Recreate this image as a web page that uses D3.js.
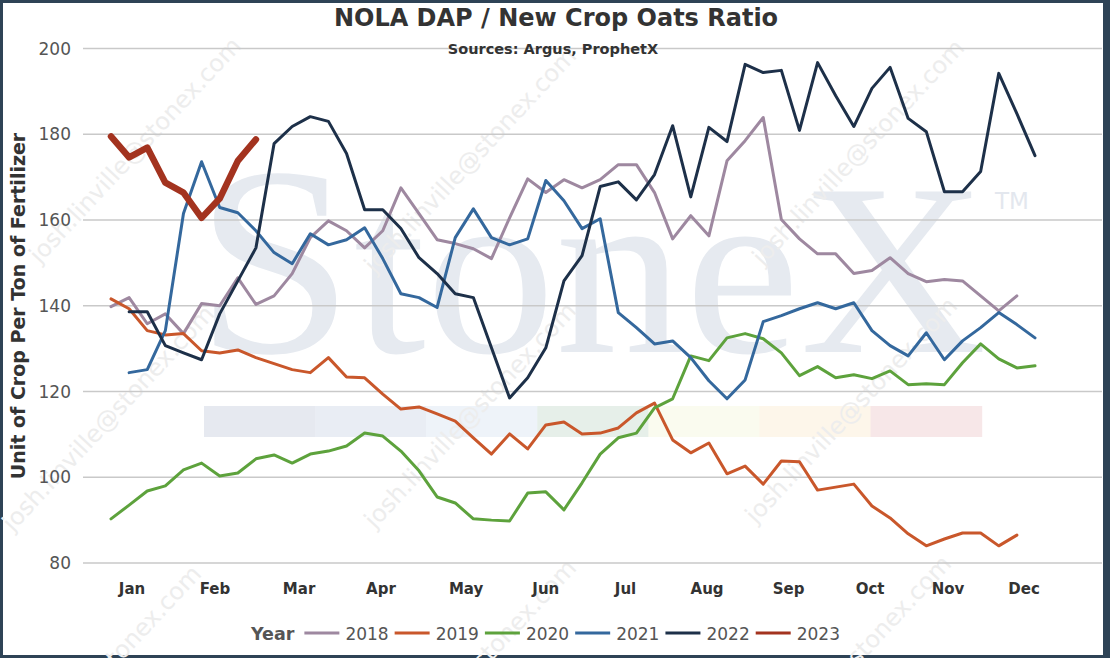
<!DOCTYPE html>
<html>
<head>
<meta charset="utf-8">
<script src="https://cdn.jsdelivr.net/npm/d3@7"></script>
<style>
  html, body { margin: 0; padding: 0; background: #2e4356; }
  svg { display: block; }
</style>
</head>
<body>
<svg id="chart" width="1110" height="658"></svg>
<script>
// ---- data (weekly ratio, week index 0..51) ----
var years  = ['2018', '2019', '2020', '2021', '2022', '2023'];
var colors = ['#9e88a0', '#c9572b', '#5da23c', '#34689d', '#1d3049', '#a3331f'];

var v2018 = [139.8,141.9,135.8,138.1,133.5,140.5,140.0,146.5,140.3,142.3,
             147.5,155.9,159.8,157.5,153.5,157.5,167.5,161.5,155.4,154.5,
             153.3,151.0,160.5,169.6,166.4,169.4,167.5,169.4,172.9,172.9,
             166.4,155.6,161.0,156.3,173.8,178.5,183.9,160.1,155.6,152.1,
             152.1,147.5,148.2,151.2,147.5,145.6,146.1,145.8,142.3,138.8,142.3];
var v2019 = [141.6,139.3,134.2,133.2,133.5,129.5,129.0,129.7,127.9,126.5,
             125.1,124.4,127.9,123.4,123.2,119.4,115.9,116.4,114.8,113.1,
             109.2,105.4,110.1,106.6,112.2,112.9,110.1,110.3,111.5,115.0,
             117.3,108.7,105.7,108.0,100.8,102.6,98.4,103.8,103.6,97.0,
             97.7,98.4,93.3,90.5,86.8,84.0,85.6,87.0,87.0,84.0,86.5];
var v2020 = [90.3,93.5,96.8,98.0,101.7,103.3,100.3,101.0,104.3,105.2,
             103.3,105.4,106.1,107.3,110.3,109.6,106.1,101.5,95.4,94.0,
             90.3,90.0,89.8,96.3,96.6,92.4,98.7,105.4,109.2,110.3,
             116.2,118.3,128.3,127.2,132.5,133.5,132.3,129.0,123.7,125.8,
             123.2,123.9,123.0,124.8,121.6,121.8,121.6,126.7,131.1,127.6,
             125.5,126.0];
var v2021 = [null,
             124.4,125.1,134.2,161.5,173.6,162.9,161.7,157.5,152.4,149.8,
             156.8,154.2,155.4,158.2,151.0,142.8,141.9,139.6,155.9,162.6,
             155.9,154.2,155.6,169.2,164.5,158.0,160.3,138.4,134.9,131.1,
             131.8,127.9,122.5,118.3,122.7,136.3,137.7,139.3,140.7,139.3,
             140.7,134.2,130.7,128.3,133.7,127.4,131.8,134.9,138.4,135.6,132.5];
var v2022 = [null,
             138.6,138.6,130.7,129.0,127.4,138.1,145.8,153.5,177.8,181.8,
             184.1,183.0,175.5,162.4,162.4,158.0,151.2,147.5,142.8,141.9,
             130.2,118.5,123.2,130.2,145.8,151.7,167.8,168.9,164.7,170.6,
             182.0,165.4,181.6,178.3,196.3,194.4,194.9,180.9,196.7,189.0,
             181.8,190.7,195.6,183.7,180.6,166.6,166.6,171.3,194.2,184.8,175.0];
var v2023 = [179.5,174.6,176.9,168.7,166.4,160.5,165.0,173.8,178.8];

var series = [v2018, v2019, v2020, v2021, v2022, v2023];

var months     = ['Jan','Feb','Mar','Apr','May','Jun','Jul','Aug','Sep','Oct','Nov','Dec'];
var monthWeeks = [1.16, 5.74, 10.38, 14.9, 19.6, 24.0, 28.4, 32.9, 37.4, 41.9, 46.2, 50.4];
var yTicks     = [80, 100, 120, 140, 160, 180, 200];

var bandColors = ['#e6e9f0','#e9edf4','#eef3f9','#e6efe9','#fafbef','#fdf6ea','#f7e7e8'];
var email = 'josh.linville@stonex.com';

// ---- setup ----
var W = 1110, H = 658;
var svg = d3.select('#chart');

svg.append('rect').attr('width', W).attr('height', H).attr('fill', '#2e4356');
svg.append('rect')
  .attr('x', 3).attr('y', 3)
  .attr('width', 1100).attr('height', 652)
  .attr('fill', '#ffffff');

var x = d3.scaleLinear().domain([0, 51]).range([111, 1035]);
var y = d3.scaleLinear().domain([80, 200]).range([563, 48.5]);

// ---- watermark ----
var wm = svg.append('g').attr('class', 'watermark');

var logo = wm.append('text')
  .attr('x', 195).attr('y', 352)
  .attr('font-family', '"Liberation Serif", "DejaVu Serif", serif')
  .attr('fill', '#e6eaf0')
  .attr('textLength', 792)
  .attr('lengthAdjust', 'spacingAndGlyphs');
logo.append('tspan').attr('font-size', 270).text('S');
logo.append('tspan').attr('font-size', 245).text('toneX');

wm.append('text')
  .attr('x', 995).attr('y', 209)
  .attr('font-family', '"DejaVu Sans", Verdana, sans-serif')
  .attr('font-size', 23)
  .attr('fill', '#e3e7ee')
  .text('TM');

wm.selectAll('rect.band')
  .data(bandColors)
  .enter().append('rect')
  .attr('class', 'band')
  .attr('x', function (d, i) { return 204 + i * 111.1; })
  .attr('y', 406)
  .attr('width', 111.6)
  .attr('height', 31)
  .attr('fill', function (d) { return d; });

/* repeated e-mail stamp, tiled diagonally */
var stamps = [[135, 150], [470, 160], [858, 152],
              [108, 418], [470, 415], [851, 410],
              [ 95, 678], [470, 672], [845, 668]];
wm.selectAll('text.stamp')
  .data(stamps)
  .enter().append('text')
  .attr('class', 'stamp')
  .attr('transform', function (d) { return 'translate(' + d[0] + ',' + d[1] + ') rotate(-47)'; })
  .attr('text-anchor', 'middle')
  .attr('dy', '0.35em')
  .attr('font-family', '"DejaVu Sans", Verdana, sans-serif')
  .attr('font-size', 24)
  .attr('fill', '#ededed')
  .text(email);

// ---- grid + y labels ----
svg.append('g').selectAll('line')
  .data(yTicks)
  .enter().append('line')
  .attr('x1', 83).attr('x2', 1102)
  .attr('y1', function (d) { return y(d); })
  .attr('y2', function (d) { return y(d); })
  .attr('stroke', '#c9c9c9')
  .attr('stroke-width', 1.5);

svg.append('g').selectAll('text')
  .data(yTicks)
  .enter().append('text')
  .attr('x', 71)
  .attr('y', function (d) { return y(d); })
  .attr('dy', '0.36em')
  .attr('text-anchor', 'end')
  .attr('font-family', '"DejaVu Sans", Verdana, sans-serif')
  .attr('font-size', 17)
  .attr('fill', '#555555')
  .text(function (d) { return d; });

// ---- x labels ----
svg.append('g').selectAll('text')
  .data(months)
  .enter().append('text')
  .attr('x', function (d, i) { return x(monthWeeks[i]); })
  .attr('y', 594)
  .attr('text-anchor', 'middle')
  .attr('font-family', '"DejaVu Sans", Verdana, sans-serif')
  .attr('font-weight', 'bold')
  .attr('font-size', 15)
  .attr('fill', '#333333')
  .text(function (d) { return d; });

// ---- lines ----
var line = d3.line()
  .defined(function (d) { return d != null; })
  .x(function (d, i) { return x(i); })
  .y(function (d) { return y(d); });

svg.append('g').selectAll('path')
  .data(series)
  .enter().append('path')
  .attr('d', line)
  .attr('fill', 'none')
  .attr('stroke', function (d, i) { return colors[i]; })
  .attr('stroke-width', function (d, i) { return i === 5 ? 6.5 : 3; })
  .attr('stroke-linejoin', 'round')
  .attr('stroke-linecap', 'round');

// ---- titles ----
svg.append('text')
  .attr('x', 556).attr('y', 26)
  .attr('text-anchor', 'middle')
  .attr('font-family', '"DejaVu Sans", Verdana, sans-serif')
  .attr('font-weight', 'bold')
  .attr('font-size', 24)
  .attr('fill', '#333333')
  .text('NOLA DAP / New Crop Oats Ratio');

svg.append('text')
  .attr('x', 553).attr('y', 54)
  .attr('text-anchor', 'middle')
  .attr('font-family', '"DejaVu Sans", Verdana, sans-serif')
  .attr('font-weight', 'bold')
  .attr('font-size', 14.5)
  .attr('fill', '#333333')
  .text('Sources: Argus, ProphetX');

svg.append('text')
  .attr('transform', 'translate(25,306) rotate(-90)')
  .attr('text-anchor', 'middle')
  .attr('font-family', '"DejaVu Sans", Verdana, sans-serif')
  .attr('font-weight', 'bold')
  .attr('font-size', 19)
  .attr('fill', '#333333')
  .text('Unit of Crop Per Ton of Fertilizer');

// ---- legend ----
var legend = svg.append('g');
var cursor = 251, legendY = 640;

var yearLabel = legend.append('text')
  .attr('x', cursor).attr('y', legendY)
  .attr('font-family', '"DejaVu Sans", Verdana, sans-serif')
  .attr('font-weight', 'bold')
  .attr('font-size', 17.5)
  .attr('fill', '#555555')
  .text('Year');
cursor += yearLabel.node().getComputedTextLength() + 10;

years.forEach(function (yr, i) {
  legend.append('line')
    .attr('x1', cursor).attr('x2', cursor + 35)
    .attr('y1', legendY - 7).attr('y2', legendY - 7)
    .attr('stroke', colors[i])
    .attr('stroke-width', 3);
  cursor += 41;
  var t = legend.append('text')
    .attr('x', cursor).attr('y', legendY)
    .attr('font-family', '"DejaVu Sans", Verdana, sans-serif')
    .attr('font-size', 17)
    .attr('fill', '#555555')
    .text(yr);
  cursor += t.node().getComputedTextLength() + 6;
});
</script>
</body>
</html>
